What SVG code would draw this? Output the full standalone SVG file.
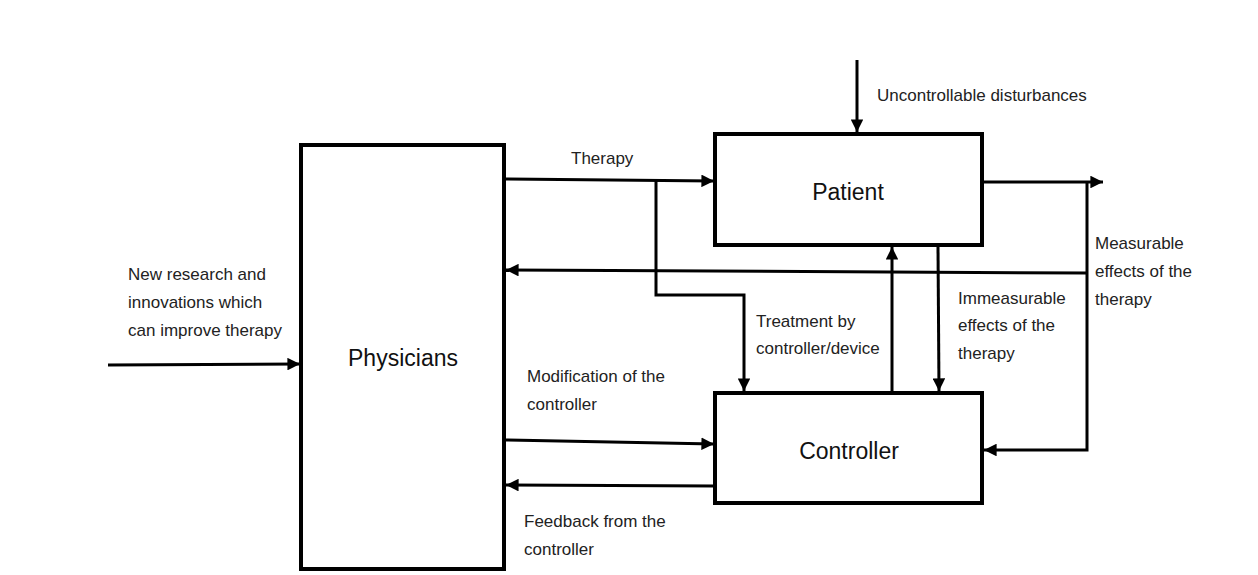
<svg xmlns="http://www.w3.org/2000/svg" width="1258" height="575" viewBox="0 0 1258 575">
<style>
.box{fill:#fff;stroke:#000;stroke-width:4}
.ln{fill:none;stroke:#000;stroke-width:3}
.t{font-family:"Liberation Sans",Arial,sans-serif;font-size:17px;fill:#222}
.big{font-family:"Liberation Sans",Arial,sans-serif;font-size:23px;fill:#111}
</style>
<defs>
<marker id="ah" viewBox="0 0 10 10" refX="10" refY="5" markerWidth="4.2" markerHeight="4.2" orient="auto" markerUnits="strokeWidth">
<path d="M0,0 L10,5 L0,10 z" fill="#000"/>
</marker>
</defs>
<rect width="1258" height="575" fill="#fff"/>
<g id="connectors">
<line class="ln" x1="108" y1="365" x2="300" y2="364" marker-end="url(#ah)"/>
<line class="ln" x1="504" y1="179" x2="714" y2="181" marker-end="url(#ah)"/>
<polyline class="ln" points="656,181 656,295 744,295 744,391" marker-end="url(#ah)"/>
<line class="ln" x1="857" y1="60" x2="857" y2="132" marker-end="url(#ah)"/>
<line class="ln" x1="982" y1="182" x2="1103" y2="182" marker-end="url(#ah)"/>
<polyline class="ln" points="1087,182 1087,450 984,450" marker-end="url(#ah)"/>
<line class="ln" x1="1087" y1="273" x2="506" y2="270" marker-end="url(#ah)"/>
<line class="ln" x1="892" y1="391" x2="892" y2="247" marker-end="url(#ah)"/>
<line class="ln" x1="938" y1="247" x2="939" y2="391" marker-end="url(#ah)"/>
<line class="ln" x1="504" y1="440" x2="714" y2="444" marker-end="url(#ah)"/>
<line class="ln" x1="715" y1="486" x2="506" y2="485" marker-end="url(#ah)"/>
</g>
<g id="physicians">
<rect class="box" x="301" y="145" width="203" height="424"/>
<text class="big" x="403" y="366" text-anchor="middle">Physicians</text>
</g>
<g id="patient">
<rect class="box" x="715" y="134" width="267" height="111"/>
<text class="big" x="848" y="200" text-anchor="middle">Patient</text>
</g>
<g id="controller">
<rect class="box" x="715" y="393" width="267" height="110"/>
<text class="big" x="849" y="459" text-anchor="middle">Controller</text>
</g>
<g id="labels">
<text class="t" x="571" y="164">Therapy</text>
<text class="t" x="877" y="101">Uncontrollable disturbances</text>
<text class="t" x="1095" y="249">Measurable</text>
<text class="t" x="1095" y="277">effects of the</text>
<text class="t" x="1095" y="305">therapy</text>
<text class="t" x="128" y="280">New research and</text>
<text class="t" x="128" y="308">innovations which</text>
<text class="t" x="128" y="336">can improve therapy</text>
<text class="t" x="958" y="304">Immeasurable</text>
<text class="t" x="958" y="331">effects of the</text>
<text class="t" x="958" y="359">therapy</text>
<text class="t" x="756" y="327">Treatment by</text>
<text class="t" x="756" y="354">controller/device</text>
<text class="t" x="527" y="382">Modification of the</text>
<text class="t" x="527" y="410">controller</text>
<text class="t" x="524" y="527">Feedback from the</text>
<text class="t" x="524" y="555">controller</text>
</g>
</svg>
